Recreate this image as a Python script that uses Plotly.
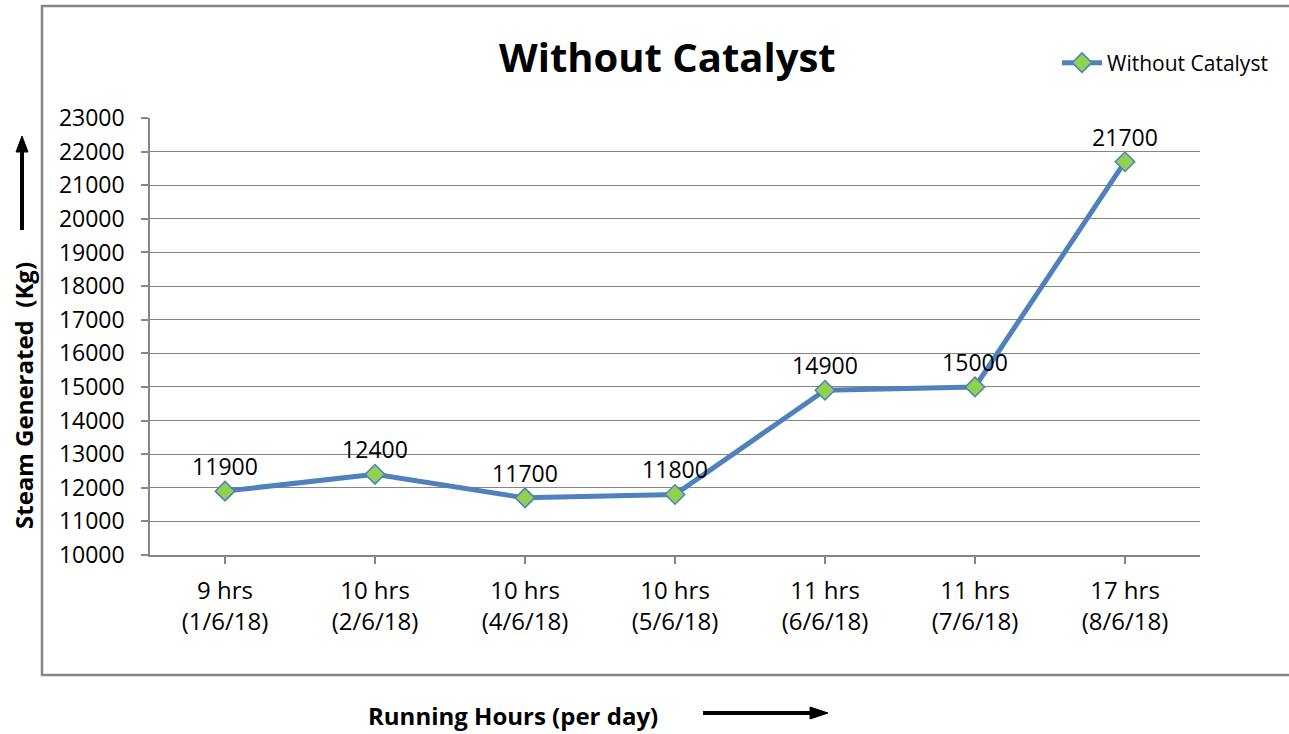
import plotly.graph_objects as go

hours = ["9 hrs", "10 hrs", "10 hrs", "10 hrs", "11 hrs", "11 hrs", "17 hrs"]
dates = ["(1/6/18)", "(2/6/18)", "(4/6/18)", "(5/6/18)", "(6/6/18)", "(7/6/18)", "(8/6/18)"]
steam = [11900, 12400, 11700, 11800, 14900, 15000, 21700]
series_name = "Without Catalyst"

W, H = 1289, 734
L, R, T, B = 150, 1200, 118, 555  # plot area in pixels

def px(x):
    return (x - L) / (R - L)

def py(y):
    return (B - y) / (B - T)

FONT = "'Open Sans', Carlito, Calibri, sans-serif"
GRAY = "#868686"
cats = list(range(len(steam)))
ticktext = [f"{h}<br>{d}" for h, d in zip(hours, dates)]

fig = go.Figure()
fig.add_trace(go.Scatter(
    x=cats, y=steam, mode="lines+markers+text", name=series_name,
    line=dict(color="#4F81BD", width=5),
    marker=dict(symbol="diamond", size=15, color="#92D050",
                line=dict(color="#4F81BD", width=1.5)),
    text=[str(v) for v in steam], textposition="top center",
    textfont=dict(family=FONT, size=23, color="#000000"),
    cliponaxis=False,
))

fig.update_layout(
    width=W, height=H,
    margin=dict(l=L, r=W - R, t=T, b=H - B),
    paper_bgcolor="white", plot_bgcolor="white",
    font=dict(family=FONT, color="#000000"),
    showlegend=True,
    legend=dict(x=px(1057), y=py(63), xanchor="left", yanchor="middle",
                font=dict(family=FONT, size=21, color="#000000"),
                bgcolor="rgba(0,0,0,0)", itemwidth=40),
    xaxis=dict(
        range=[-0.5, len(steam) - 0.5], tickmode="array", tickvals=cats,
        ticktext=ticktext, showgrid=False, zeroline=False,
        showline=True, linecolor=GRAY, linewidth=1.5,
        ticks="outside", ticklen=7, tickcolor=GRAY, tickwidth=1.5,
        tickfont=dict(family=FONT, size=24, color="#000000"),
        tickson="boundaries", ticklabelstandoff=6,
    ),
    yaxis=dict(
        range=[10000, 23000], tickmode="linear", tick0=10000, dtick=1000,
        tickformat="d",
        showgrid=True, gridcolor=GRAY, gridwidth=1.2, zeroline=False,
        showline=True, linecolor=GRAY, linewidth=1.5,
        ticks="outside", ticklen=7, tickcolor=GRAY, tickwidth=1.5,
        tickfont=dict(family=FONT, size=23, color="#000000"),
        ticklabelstandoff=12,
    ),
)

# outer chart border (right edge beyond the image)
fig.add_shape(type="rect", xref="paper", yref="paper",
              x0=px(42), x1=px(1300), y0=py(675), y1=py(6),
              line=dict(color=GRAY, width=2.5), fillcolor="rgba(0,0,0,0)", layer="below")

# Title
fig.add_annotation(text="<b>Without Catalyst</b>", xref="paper", yref="paper",
                   x=px(667), y=py(57), xanchor="center", yanchor="middle",
                   showarrow=False, font=dict(family=FONT, size=40, color="#000000"))

# Y axis title
fig.add_annotation(text="<b>Steam Generated  (Kg)</b>", xref="paper", yref="paper",
                   x=px(23), y=py(396), xanchor="center", yanchor="middle", textangle=-90,
                   showarrow=False, font=dict(family=FONT, size=24, color="#000000"))

# X axis title
fig.add_annotation(text="<b>Running Hours (per day)</b>", xref="paper", yref="paper",
                   x=px(513), y=py(715), xanchor="center", yanchor="middle",
                   showarrow=False, font=dict(family=FONT, size=24, color="#000000"))

# Up arrow (y axis)
fig.add_shape(type="line", xref="paper", yref="paper",
              x0=px(22), x1=px(22), y0=py(230), y1=py(150),
              line=dict(color="#000000", width=4))
fig.add_shape(type="path", xref="paper", yref="paper",
              path=f"M {px(16)} {py(152)} L {px(28)} {py(152)} L {px(22)} {py(136)} Z",
              fillcolor="#000000", line=dict(color="#000000", width=1))

# Right arrow (x axis)
fig.add_shape(type="line", xref="paper", yref="paper",
              x0=px(703), x1=px(812), y0=py(713), y1=py(713),
              line=dict(color="#000000", width=4))
fig.add_shape(type="path", xref="paper", yref="paper",
              path=f"M {px(810)} {py(707)} L {px(810)} {py(719)} L {px(828)} {py(713)} Z",
              fillcolor="#000000", line=dict(color="#000000", width=1))

fig.write_html("out.html", config={"displayModeBar": False},
               post_script="document.body.style.margin='0px';")
